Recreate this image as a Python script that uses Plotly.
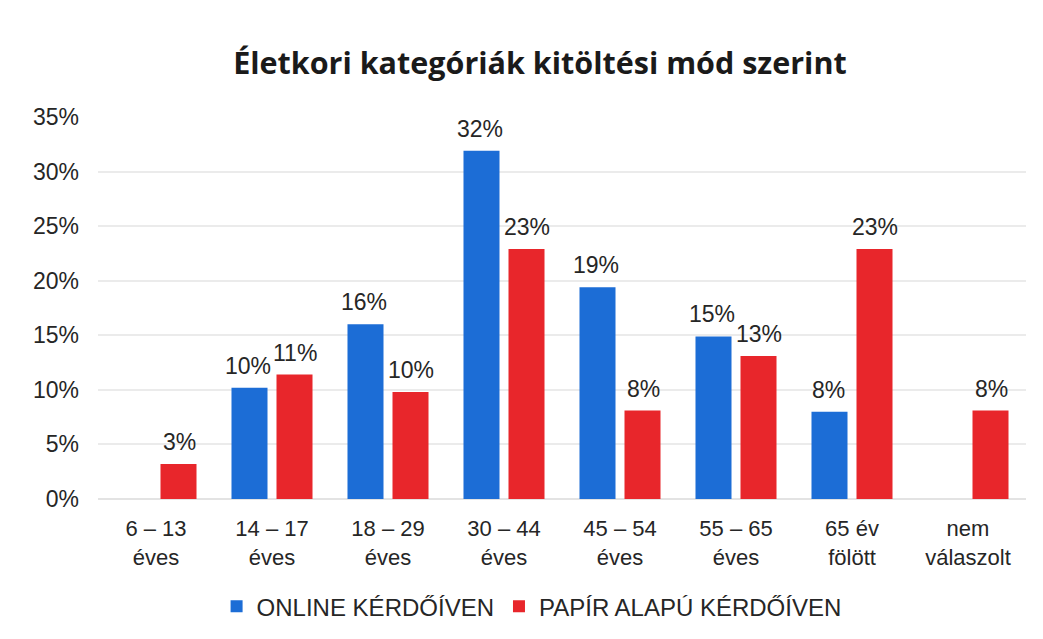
import plotly.graph_objects as go

categories = ["6 – 13<br>éves", "14 – 17<br>éves", "18 – 29<br>éves", "30 – 44<br>éves",
              "45 – 54<br>éves", "55 – 65<br>éves", "65 év<br>fölött", "nem<br>válaszolt"]
online = [None, 10.2, 16.0, 31.9, 19.4, 14.9, 8.0, None]
papir = [3.2, 11.4, 9.8, 22.9, 8.1, 13.1, 22.9, 8.1]
online_labels = [None, "10%", "16%", "32%", "19%", "15%", "8%", None]
papir_labels = ["3%", "11%", "10%", "23%", "8%", "13%", "23%", "8%"]
yticks = [0, 5, 10, 15, 20, 25, 30, 35]
ytext = [f"{v}%" for v in yticks]

FONT = "Liberation Sans, Arial, sans-serif"
TXT = "#262626"
BLUE = "#1c6dd6"
RED = "#e8262b"

fig = go.Figure()
fig.add_trace(go.Bar(x=categories, y=online, name="ONLINE KÉRDŐÍVEN",
                     marker=dict(color=BLUE, line=dict(width=0))))
fig.add_trace(go.Bar(x=categories, y=papir, name="PAPÍR ALAPÚ KÉRDŐÍVEN",
                     marker=dict(color=RED, line=dict(width=0))))

annotations = []
for cat, v, lab in zip(categories, online, online_labels):
    if v is not None:
        annotations.append(dict(x=cat, y=v, text=lab, showarrow=False, xref="x", yref="y",
                                yanchor="bottom", yshift=7, xshift=-24,
                                font=dict(size=23, family=FONT, color=TXT)))
for cat, v, lab in zip(categories, papir, papir_labels):
    if v is not None:
        annotations.append(dict(x=cat, y=v, text=lab, showarrow=False, xref="x", yref="y",
                                yanchor="bottom", yshift=7, xshift=23,
                                font=dict(size=23, family=FONT, color=TXT)))

fig.update_layout(
    width=1043, height=639,
    paper_bgcolor="white", plot_bgcolor="white",
    margin=dict(l=90, r=25, t=109, b=148, autoexpand=False),
    barmode="group", bargap=0.224, bargroupgap=0.2,
    title=dict(text="<b>Életkori kategóriák kitöltési mód szerint</b>",
               x=0.51, xanchor="center", xref="container",
               y=0.914, yanchor="middle", yref="container",
               font=dict(size=30.5, family="Open Sans, sans-serif", color="#1a1a1a")),
    font=dict(family=FONT, size=23, color=TXT),
    legend=dict(orientation="h", xref="container", x=0.502, xanchor="center",
                yref="container", y=0.063, yanchor="middle",
                font=dict(size=24, family=FONT, color=TXT), itemwidth=30,
                traceorder="normal"),
    annotations=annotations,
)
fig.update_yaxes(range=[0, 35], tickvals=yticks, ticktext=ytext,
                 showgrid=True, gridcolor="#ebebeb", gridwidth=1.5,
                 zeroline=True, zerolinecolor="#e3e3e3", zerolinewidth=1.5,
                 showline=False, ticks="", ticklabelstandoff=18,
                 tickfont=dict(size=23, family=FONT, color=TXT))
fig.update_xaxes(showline=False, ticks="", showgrid=False, ticklabelstandoff=14,
                 tickfont=dict(size=22, family=FONT, color=TXT))

fig.write_html("out.html")
